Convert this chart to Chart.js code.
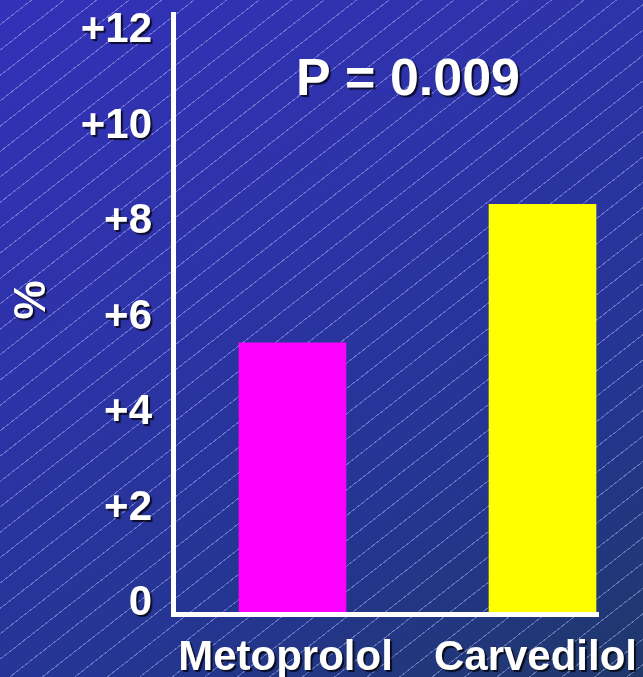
<!DOCTYPE html>
<html>
<head>
<meta charset="utf-8">
<title>Metoprolol vs Carvedilol</title>
<script src="https://cdn.jsdelivr.net/npm/chart.js@4.4.1/dist/chart.umd.min.js"></script>
<style>
  html, body { margin: 0; padding: 0; overflow: hidden; }
  body {
    width: 643px;
    height: 677px;
    background:
      repeating-linear-gradient(142deg,
        rgba(190, 200, 255, 0) 0px, rgba(190, 200, 255, 0) 19px,
        rgba(190, 200, 255, 0.42) 19px, rgba(190, 200, 255, 0.42) 20px),
      linear-gradient(150deg, #3331b8 0%, #2c33a6 40%, #243592 70%, #1f386a 100%);
  }
  canvas { display: block; }
</style>
</head>
<body>
<canvas id="chart" width="643" height="677"></canvas>
<script>
const categories = ['Metoprolol', 'Carvedilol'];
const changePct = [5.4, 8.3];
const barColors = ['#ff00ff', '#ffff00'];
const yTicks = [0, 2, 4, 6, 8, 10, 12];
const yTickLabels = ['0', '+2', '+4', '+6', '+8', '+10', '+12'];
const yTitle = '%';
const pText = 'P = 0.009';

// value range of the y axis (axis line sits a little below zero)
const yMin = -0.28;
const yMax = 12.29;
// x runs on a linear scale so the two bars can sit off-centre in the plot
const xMin = -0.478;
const xMax = 1.222;

const FONT = "'Liberation Sans', Arial, sans-serif";
Chart.defaults.font.family = FONT;

function setShadow(ctx) {
    ctx.shadowColor = 'rgba(0, 0, 0, 0.75)';
    ctx.shadowOffsetX = 2;
    ctx.shadowOffsetY = 2;
    ctx.shadowBlur = 1;
}

function clearShadow(ctx) {
    ctx.shadowColor = 'rgba(0, 0, 0, 0)';
    ctx.shadowOffsetX = 0;
    ctx.shadowOffsetY = 0;
    ctx.shadowBlur = 0;
}

// labels get a drop shadow, bars and axis lines don't
const shadowText = {
    id: 'shadowText',
    beforeDraw(chart) {
        setShadow(chart.ctx);
    },
    beforeDatasetsDraw(chart) {
        clearShadow(chart.ctx);
    },
    afterDraw(chart) {
        const ctx = chart.ctx;
        const area = chart.chartArea;
        const y = chart.scales.y;
        ctx.save();
        setShadow(ctx);
        ctx.fillStyle = '#ffffff';
        ctx.font = `bold 52px ${FONT}`;
        ctx.textAlign = 'center';
        ctx.textBaseline = 'alphabetic';
        ctx.fillText(pText, area.left + 235, area.top + 81);

        // rotated axis title
        ctx.translate(y.left + 33, y.getPixelForValue(6.3));
        ctx.rotate(-Math.PI / 2);
        ctx.font = `bold 44px ${FONT}`;
        ctx.textBaseline = 'middle';
        ctx.fillText(yTitle, 0, 0);
        ctx.restore();
    }
};

const points = categories.map((c, i) => ({ x: i, y: changePct[i] }));

new Chart(document.getElementById('chart'), {
    type: 'bar',
    data: {
        datasets: [{
            data: points,
            backgroundColor: barColors,
            borderWidth: 0,
            barThickness: 107,
            base: yMin
        }]
    },
    options: {
        responsive: false,
        animation: false,
        events: [],
        layout: { padding: { top: 14, right: 45, left: 0, bottom: 0 } },
        plugins: {
            legend: { display: false },
            tooltip: { enabled: false }
        },
        scales: {
            x: {
                type: 'linear',
                offset: false,
                min: xMin,
                max: xMax,
                afterBuildTicks: scale => {
                    scale.ticks = categories.map((c, i) => ({ value: i }));
                },
                afterFit: scale => {
                    scale.height = 63;
                    scale.paddingLeft = 0;
                    scale.paddingRight = 0;
                },
                grid: { display: false, drawTicks: false },
                border: { display: true, color: '#ffffff', width: 5, z: 1 },
                ticks: {
                    color: '#ffffff',
                    font: { size: 42, weight: 'bold' },
                    padding: 19,
                    labelOffset: -7,
                    maxRotation: 0,
                    autoSkip: false,
                    callback: v => categories[v]
                }
            },
            y: {
                min: yMin,
                max: yMax,
                afterBuildTicks: scale => {
                    scale.ticks = yTicks.map(v => ({ value: v }));
                },
                afterFit: scale => {
                    scale.width = 173;
                    scale.paddingTop = 0;
                    scale.paddingBottom = 0;
                },
                grid: { display: false, drawTicks: false },
                border: { display: true, color: '#ffffff', width: 5, z: 1 },
                ticks: {
                    color: '#ffffff',
                    font: { size: 42, weight: 'bold' },
                    padding: 21,
                    labelOffset: 3,
                    callback: v => yTickLabels[yTicks.indexOf(v)]
                }
            }
        }
    },
    plugins: [shadowText]
});
</script>
</body>
</html>
